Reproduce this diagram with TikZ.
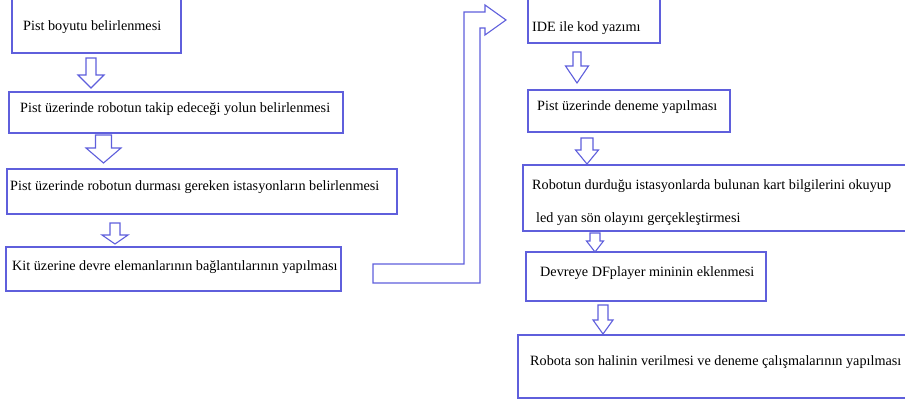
\documentclass[tikz,border=0pt]{standalone}
\usepackage{fontspec}
\setmainfont{Liberation Serif}
\definecolor{lineblue}{RGB}{95,95,220}
\tikzset{
  box/.style={draw=lineblue, line width=1.3pt},
  blk/.style={draw=lineblue, line width=1.1pt, fill=white, line join=miter},
  lbl/.style={anchor=base west, inner sep=0pt, font=\fontsize{14.2}{17}\selectfont, text=black}
}
% down block arrow: center x, shaft top, head base, tip, shaft half width, head half width
\newcommand\blockdownarrow[6]{%
  \draw[blk] (#1-#5,#2) -- (#1+#5,#2) -- (#1+#5,#3) -- (#1+#6,#3) -- (#1,#4)
    -- (#1-#6,#3) -- (#1-#5,#3) -- cycle;}
\begin{document}
\begin{tikzpicture}[x=1pt,y=-1pt]
\useasboundingbox (0,0) rectangle (905,403);
\clip (0,0) rectangle (905,403);
% boxes
\draw[box] (12,-10) rectangle (181,53) coordinate (b1);
\draw[box] (9,92) rectangle (343,133) coordinate (b2);
\draw[box] (7,169) rectangle (397,214) coordinate (b3);
\draw[box] (6,247) rectangle (341,291) coordinate (b4);
\draw[box] (528,-10) rectangle (660,43) coordinate (b5);
\draw[box] (528,90) rectangle (730,132) coordinate (b6);
\draw[box] (523,165) rectangle (915,231) coordinate (b7);
\draw[box] (526,252) rectangle (766,301) coordinate (b8);
\draw[box] (518,335) rectangle (915,398) coordinate (b9);
% texts
\node[lbl] (t1) at (23,31) {Pist boyutu belirlenmesi};
\node[lbl] (t2) at (20,113) {Pist üzerinde robotun takip edeceği yolun belirlenmesi};
\node[lbl] (t3) at (10,191) {Pist üzerinde robotun durması gereken istasyonların belirlenmesi};
\node[lbl] (t4) at (12,271) {Kit üzerine devre elemanlarının bağlantılarının yapılması};
\node[lbl] (t5) at (532,32) {IDE ile kod yazımı};
\node[lbl] (t6) at (537,111) {Pist üzerinde deneme yapılması};
\node[lbl] (t7a) at (532,190) {Robotun durduğu istasyonlarda bulunan kart bilgilerini okuyup};
\node[lbl] (t7b) at (536,223) {led yan sön olayını gerçekleştirmesi};
\node[lbl] (t8) at (540,277) {Devreye DFplayer mininin eklenmesi};
\node[lbl] (t9) at (530,366) {Robota son halinin verilmesi ve deneme çalışmalarının yapılması};
% down block arrows
\blockdownarrow{91}{58}{75}{88}{5}{13}
\blockdownarrow{103.5}{135}{148}{163}{8}{17.5}
\blockdownarrow{115}{223}{235}{244}{5}{13}
\blockdownarrow{577}{52}{66}{83}{4}{11.5}
\blockdownarrow{587}{138}{150}{164}{6}{11.5}
\blockdownarrow{595}{233}{241}{252}{5}{8.5}
\blockdownarrow{603}{305}{320}{334}{5}{10}
% bent block arrow
\draw[blk] (373,264) -- (464,264) -- (464,12) -- (485,12) -- (485,5) -- (506,20)
  -- (485,35) -- (485,28) -- (480,28) -- (480,283) -- (373,283) -- cycle;
\end{tikzpicture}
\end{document}
